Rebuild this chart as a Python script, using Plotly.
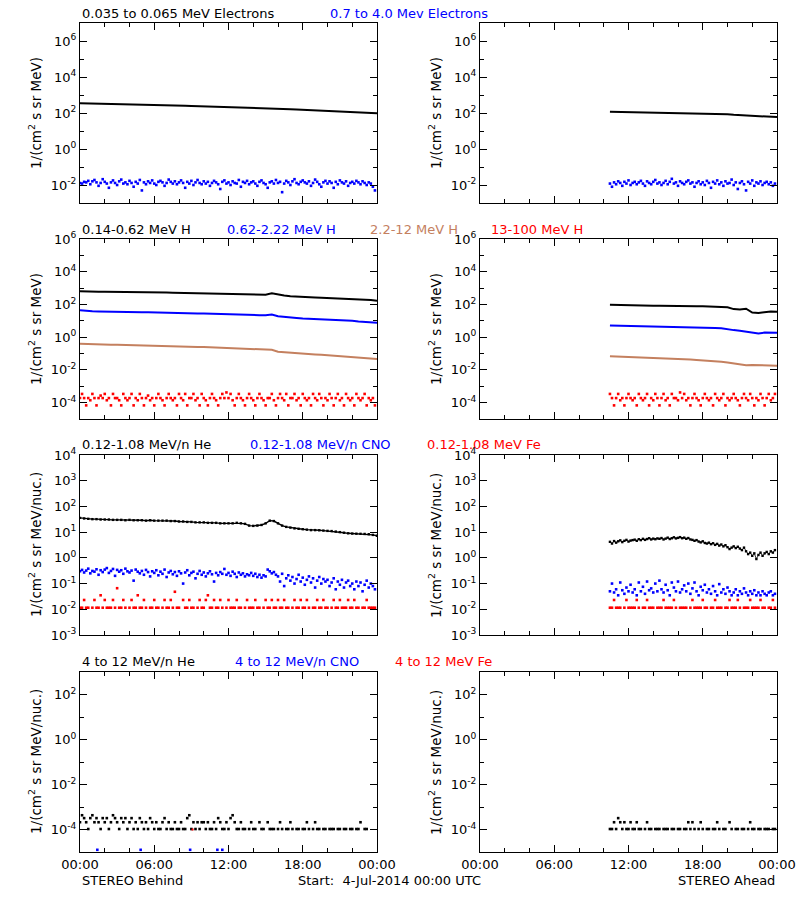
import pandas as pd
import plotly.graph_objects as go

# ---------------- time bases (categories) ----------------
t10_B = pd.date_range('2014-07-04 00:00', periods=144, freq='10min')
t10_A = pd.date_range('2014-07-04 10:30', periods=81, freq='10min')
t30_B = pd.date_range('2014-07-04 00:00', periods=49, freq='30min')
t30_A = pd.date_range('2014-07-04 10:30', periods=28, freq='30min')
t20_B = pd.date_range('2014-07-04 00:00', periods=73, freq='20min')

# ---------------- Row 1: electrons ----------------
e_lo_B = [350, 345, 340, 336, 332, 325, 318, 314, 308, 302, 298, 292, 284, 278, 272, 264, 258,
          252, 247, 242, 236, 230, 222, 214, 206, 202, 198, 193, 189, 185, 181, 177, 172, 167,
          162, 157, 152, 147, 142, 137, 132, 127, 122, 118, 114, 110, 106, 101, 96]
e_hi_B = [0.013, 0.012, 0.015, 0.014, 0.017, 0.011, 0.016, 0.019, 0.014, 0.009, 0.013, 0.021,
          0.015, 0.012, 0.007, 0.014, 0.018, 0.013, 0.010, 0.016, 0.020, 0.012, 0.014, 0.011,
          0.017, 0.013, 0.008, 0.015, 0.012, 0.019, 0.005, 0.014, 0.011, 0.016, 0.013, 0.018,
          0.012, 0.010, 0.015, 0.017, 0.014, 0.009, 0.013, 0.020, 0.015, 0.012, 0.016, 0.011,
          0.014, 0.018, 0.013, 0.007, 0.015, 0.012, 0.017, 0.010, 0.014, 0.019, 0.013, 0.011,
          0.016, 0.012, 0.015, 0.009, 0.013, 0.017, 0.014, 0.011, 0.006, 0.015, 0.018, 0.012,
          0.014, 0.010, 0.016, 0.013, 0.012, 0.019, 0.008, 0.015, 0.013, 0.017, 0.011, 0.014,
          0.016, 0.012, 0.009, 0.015, 0.018, 0.013, 0.011, 0.007, 0.014, 0.016, 0.012, 0.019,
          0.013, 0.015, 0.004, 0.012, 0.017, 0.014, 0.010, 0.016, 0.021, 0.013, 0.011, 0.015,
          0.018, 0.014, 0.012, 0.016, 0.009, 0.013, 0.020, 0.015, 0.011, 0.008, 0.014, 0.017,
          0.012, 0.016, 0.013, 0.007, 0.015, 0.011, 0.018, 0.014, 0.012, 0.016, 0.009, 0.013,
          0.015, 0.012, 0.017, 0.014, 0.011, 0.016, 0.013, 0.010, 0.014, 0.012, 0.008, 0.005]
e_lo_A = [118, 116, 115, 114, 112, 110, 108, 107, 105, 104, 102, 100, 99, 98, 96, 95, 93, 91,
          88, 84, 79, 75, 72, 69, 65, 61, 58, 59]
e_hi_A = [0.012, 0.008, 0.014, 0.011, 0.016, 0.013, 0.009, 0.015, 0.012, 0.018, 0.010, 0.013,
          0.015, 0.011, 0.014, 0.017, 0.012, 0.009, 0.016, 0.013, 0.011, 0.015, 0.019, 0.012,
          0.014, 0.010, 0.013, 0.017, 0.011, 0.015, 0.022, 0.012, 0.014, 0.009, 0.016, 0.013,
          0.011, 0.015, 0.018, 0.012, 0.014, 0.008, 0.013, 0.016, 0.011, 0.014, 0.010, 0.017,
          0.013, 0.007, 0.015, 0.012, 0.018, 0.011, 0.014, 0.009, 0.016, 0.012, 0.013, 0.020,
          0.010, 0.014, 0.006, 0.013, 0.016, 0.011, 0.005, 0.015, 0.012, 0.018, 0.009, 0.014,
          0.012, 0.016, 0.010, 0.013, 0.015, 0.011, 0.014, 0.009, 0.012]

# ---------------- Row 2: protons ----------------
h1_B = [630, 640, 610, 600, 590, 590, 580, 575, 570, 565,
        560, 555, 550, 545, 535, 520, 510, 500, 490, 480,
        470, 460, 455, 445, 435, 425, 415, 405, 380, 360,
        390, 480, 400, 350, 320, 300, 290, 280, 270, 260,
        252, 245, 238, 230, 220, 210, 198, 185, 170]
h2_B = [44, 40, 38, 37, 36, 36, 35, 35, 34, 34,
        33, 33, 32, 32, 31, 30, 30, 29, 29, 28,
        28, 27, 27, 26, 26, 25, 25, 24, 23, 22,
        22, 24, 19, 17, 16, 15, 14, 13.5, 13, 12.5,
        12, 11.5, 11, 10.5, 10, 9, 8.5, 8, 7.5]
h3_B = [0.40, 0.38, 0.37, 0.36, 0.35, 0.34, 0.34, 0.33, 0.32, 0.31,
        0.31, 0.30, 0.30, 0.29, 0.29, 0.28, 0.28, 0.27, 0.26, 0.25,
        0.25, 0.24, 0.23, 0.23, 0.22, 0.21, 0.20, 0.20, 0.19, 0.18,
        0.17, 0.17, 0.13, 0.12, 0.11, 0.105, 0.098, 0.093, 0.088, 0.083,
        0.077, 0.072, 0.068, 0.063, 0.058, 0.054, 0.05, 0.048, 0.046]
h4_B = [1.9e-4, 3.4e-4, 1.9e-4, 6.8e-5, 1.9e-4, 1.4e-4, 3.4e-4, 1.9e-4, 6.8e-5, 1.9e-4, 2.7e-4, 1.9e-4,
        3.4e-4, 1.4e-4, 1.9e-4, 6.8e-5, 3.4e-4, 1.9e-4, 1.9e-4, 1.4e-4, 6.8e-5, 3.4e-4, 1.9e-4, 1.4e-4,
        1.9e-4, 3.4e-4, 6.8e-5, 1.9e-4, 1.4e-4, 3.4e-4, 1.9e-4, 6.8e-5, 1.9e-4, 2.7e-4, 1.4e-4, 1.9e-4,
        6.8e-5, 1.9e-4, 3.4e-4, 1.9e-4, 1.4e-4, 6.8e-5, 1.9e-4, 3.4e-4, 1.9e-4, 1.4e-4, 1.9e-4, 6.8e-5,
        3.4e-4, 1.9e-4, 1.4e-4, 3.4e-4, 6.8e-5, 1.9e-4, 1.9e-4, 3.4e-4, 1.4e-4, 1.9e-4, 6.8e-5, 3.4e-4,
        1.9e-4, 1.4e-4, 6.8e-5, 1.9e-4, 3.4e-4, 1.9e-4, 1.4e-4, 6.8e-5, 1.9e-4, 3.4e-4, 1.9e-4, 4.2e-4,
        1.9e-4, 3.4e-4, 1.4e-4, 6.8e-5, 1.9e-4, 3.4e-4, 1.9e-4, 1.4e-4, 6.8e-5, 1.9e-4, 3.4e-4, 1.9e-4,
        1.4e-4, 6.8e-5, 1.9e-4, 3.4e-4, 1.9e-4, 1.4e-4, 6.8e-5, 1.9e-4, 1.9e-4, 3.4e-4, 1.4e-4, 6.8e-5,
        1.9e-4, 3.4e-4, 1.9e-4, 1.4e-4, 3.4e-4, 6.8e-5, 1.9e-4, 1.9e-4, 3.4e-4, 1.4e-4, 1.9e-4, 6.8e-5,
        3.4e-4, 1.9e-4, 1.4e-4, 1.9e-4, 6.8e-5, 3.4e-4, 1.9e-4, 1.4e-4, 3.4e-4, 1.9e-4, 6.8e-5, 1.9e-4,
        1.4e-4, 3.4e-4, 1.9e-4, 6.8e-5, 1.9e-4, 3.4e-4, 1.4e-4, 1.9e-4, 6.8e-5, 3.4e-4, 1.9e-4, 1.4e-4,
        1.9e-4, 6.8e-5, 3.4e-4, 1.9e-4, 1.4e-4, 1.9e-4, 3.4e-4, 6.8e-5, 1.9e-4, 1.4e-4, 1.9e-4, 6.8e-5]
h1_A = [95, 92, 90, 88, 87, 86, 84, 82, 82, 80, 80, 79, 79, 78, 78, 77, 75, 73, 70, 67,
        52, 50, 55, 32, 30, 34, 37, 36]
h2_A = [5.2, 5.1, 5.1, 5.0, 5.0, 4.9, 4.9, 4.8, 4.7, 4.6, 4.5, 4.4, 4.3, 4.2, 4.1, 4.0,
        3.9, 3.7, 3.5, 3.0, 2.7, 2.5, 2.2, 1.8, 1.7, 1.9, 1.9, 1.85]
h3_A = [0.068, 0.066, 0.065, 0.064, 0.062, 0.060, 0.058, 0.056, 0.053, 0.050, 0.049, 0.047,
        0.045, 0.043, 0.041, 0.039, 0.036, 0.034, 0.031, 0.028, 0.024, 0.020, 0.019, 0.020,
        0.019, 0.019, 0.018, 0.018]
h4_A = [3.4e-4, 1.9e-4, 6.8e-5, 1.9e-4, 3.4e-4, 1.4e-4, 1.9e-4, 6.8e-5, 1.9e-4, 3.4e-4, 1.9e-4, 1.4e-4,
        1.9e-4, 6.8e-5, 3.4e-4, 1.9e-4, 1.4e-4, 1.9e-4, 3.4e-4, 6.8e-5, 1.9e-4, 1.4e-4, 3.4e-4, 1.9e-4,
        6.8e-5, 1.9e-4, 3.4e-4, 1.4e-4, 1.9e-4, 6.8e-5, 3.4e-4, 1.9e-4, 1.9e-4, 1.4e-4, 4.2e-4, 1.9e-4,
        3.4e-4, 1.4e-4, 1.9e-4, 6.8e-5, 1.9e-4, 3.4e-4, 1.9e-4, 1.4e-4, 6.8e-5, 1.9e-4, 3.4e-4, 1.9e-4,
        1.4e-4, 1.9e-4, 6.8e-5, 3.4e-4, 1.9e-4, 1.4e-4, 1.9e-4, 3.4e-4, 6.8e-5, 1.9e-4, 1.4e-4, 1.9e-4,
        3.4e-4, 1.9e-4, 1.4e-4, 6.8e-5, 1.9e-4, 3.4e-4, 1.9e-4, 1.4e-4, 3.4e-4, 1.9e-4, 6.8e-5, 1.9e-4,
        1.4e-4, 3.4e-4, 1.9e-4, 6.8e-5, 1.9e-4, 3.4e-4, 1.4e-4, 1.9e-4, 3.4e-4]

# ---------------- Row 3: 0.12-1.08 MeV/n heavy ions ----------------
he_B = [36, 34, 33, 32, 32, 31, 31, 31, 30, 30, 30, 29,
        30, 29, 29, 29, 28, 29, 28, 28, 28, 28, 27, 27,
        26, 26, 25, 25, 24, 24, 24, 23, 23, 23, 22, 22,
        22, 22, 23, 22, 21, 18, 17.5, 18, 19, 22, 28, 27,
        22, 18, 16, 15, 14, 13.5, 13, 12.5, 12, 12, 11.8, 11.5,
        11.2, 11, 10.5, 10, 9.5, 9, 8.8, 8.7, 8.6, 8.5, 8.3, 7.8,
        7.2]
cno_B = [0.30, 0.34, 0.27, 0.32, 0.38, 0.25, 0.31, 0.29, 0.36, 0.22, 0.33, 0.28,
         0.35, 0.40, 0.26, 0.31, 0.37, 0.20, 0.34, 0.29, 0.33, 0.24, 0.38, 0.30,
         0.27, 0.32, 0.13, 0.35, 0.29, 0.25, 0.31, 0.22, 0.34, 0.28, 0.19, 0.30,
         0.26, 0.33, 0.21, 0.29, 0.24, 0.35, 0.18, 0.27, 0.31, 0.23, 0.28, 0.20,
         0.30, 0.25, 0.10, 0.27, 0.33, 0.21, 0.26, 0.29, 0.16, 0.24, 0.31, 0.22,
         0.27, 0.19, 0.25, 0.30, 0.23, 0.12, 0.26, 0.21, 0.28, 0.24, 0.37, 0.22,
         0.26, 0.20, 0.29, 0.24, 0.18, 0.27, 0.22, 0.25, 0.19, 0.23, 0.21, 0.26,
         0.20, 0.24, 0.18, 0.22, 0.17, 0.21, 0.19, 0.35, 0.30, 0.25, 0.28, 0.22,
         0.19, 0.12, 0.24, 0.08, 0.16, 0.21, 0.13, 0.18, 0.10, 0.15, 0.22, 0.12,
         0.17, 0.09, 0.14, 0.19, 0.11, 0.16, 0.07, 0.13, 0.18, 0.10, 0.15, 0.12,
         0.14, 0.08, 0.11, 0.16, 0.06, 0.12, 0.09, 0.14, 0.07, 0.11, 0.13, 0.08,
         0.10, 0.06, 0.12, 0.08, 0.11, 0.05, 0.09, 0.13, 0.07, 0.10, 0.08, 0.06]
fe_B = [0.0115, 0.0115, 0.023, 0.0115, 0.0115, None, 0.0115, 0.023, 0.0115, 0.0115, 0.035, 0.0115,
        0.023, 0.0115, 0.0115, 0.0115, 0.023, 0.0115, 0.066, 0.0115, 0.0115, 0.023, 0.0115, None,
        0.0115, 0.023, 0.0115, 0.0115, 0.035, 0.0115, 0.0115, 0.023, 0.0115, None, 0.0115, 0.0115,
        0.023, 0.0115, 0.0115, None, 0.0115, 0.023, 0.0115, 0.0115, 0.023, 0.0115, 0.048, 0.0115,
        0.0115, None, 0.023, 0.0115, 0.0115, 0.023, 0.0115, 0.0115, None, 0.0115, 0.023, 0.0115,
        0.0115, 0.023, 0.035, 0.0115, 0.0115, 0.023, 0.0115, 0.0115, 0.023, 0.0115, None, 0.0115,
        0.023, 0.0115, 0.0115, 0.0115, 0.023, 0.0115, 0.0115, None, 0.0115, 0.023, 0.0115, 0.0115,
        0.0115, 0.023, 0.0115, 0.0115, None, 0.0115, 0.023, 0.0115, 0.0115, 0.023, 0.0115, 0.0115,
        0.023, 0.0115, 0.0115, 0.023, 0.0115, 0.0115, None, 0.0115, 0.023, 0.0115, 0.0115, 0.023,
        0.0115, 0.0115, 0.023, 0.0115, None, 0.0115, 0.0115, 0.023, 0.0115, 0.0115, 0.023, 0.0115,
        0.0115, None, 0.0115, 0.023, 0.0115, 0.0115, 0.023, 0.0115, 0.0115, 0.0115, 0.023, 0.0115,
        0.0115, 0.023, 0.0115, 0.0115, None, 0.0115, 0.0115, 0.023, 0.0115, 0.0115, 0.0115, 0.0115]
he_A = [4.2, 3.6, 4.5, 3.9, 4.4, 4.8, 4.1, 4.6, 5.0, 4.3, 4.7, 4.9,
        5.1, 4.6, 5.3, 4.9, 5.5, 5.0, 5.4, 5.8, 5.2, 5.6, 5.3, 5.7,
        5.5, 5.9, 5.2, 5.6, 6.1, 5.4, 5.8, 6.3, 5.7, 6.0, 6.4, 5.8,
        6.1, 5.5, 5.9, 5.2, 5.0, 4.6, 4.9, 4.3, 4.0, 4.4, 3.8, 3.6,
        3.9, 3.4, 3.7, 3.2, 3.5, 3.0, 3.3, 2.8, 3.1, 2.6, 2.2, 2.5,
        2.8, 2.4, 2.7, 2.3, 2.0, 2.5, 1.8, 1.4, 1.6, 1.2, 1.5, 0.9,
        1.3, 1.6, 1.2, 1.5, 1.7, 1.4, 1.8, 1.6, 2.0]
cno_A = [0.05, 0.10, 0.045, 0.06, 0.035, 0.11, 0.055, 0.04, 0.07, 0.05, 0.09, 0.045,
         0.06, 0.035, 0.11, 0.05, 0.075, 0.04, 0.12, 0.055, 0.065, 0.045, 0.10, 0.05,
         0.13, 0.06, 0.045, 0.09, 0.055, 0.035, 0.11, 0.07, 0.05, 0.12, 0.045, 0.06,
         0.085, 0.05, 0.10, 0.04, 0.065, 0.11, 0.05, 0.035, 0.075, 0.055, 0.09, 0.045,
         0.06, 0.04, 0.08, 0.05, 0.035, 0.095, 0.045, 0.06, 0.04, 0.07, 0.05, 0.035,
         0.045, 0.06, 0.035, 0.05, 0.04, 0.065, 0.045, 0.035, 0.05, 0.04, 0.055, 0.035,
         0.045, 0.035, 0.05, 0.04, 0.035, 0.045, 0.05, 0.035, 0.04]
fe_A = [0.0115, 0.0115, 0.023, 0.0115, 0.0115, 0.0115, None, 0.0115, 0.023, 0.0115, 0.0115, 0.0115,
        0.0115, 0.023, 0.0115, None, 0.0115, 0.0115, 0.023, 0.0115, 0.0115, 0.0115, None, 0.0115,
        0.0115, 0.0115, 0.023, 0.0115, 0.0115, 0.0115, 0.0115, 0.023, 0.0115, None, 0.0115, 0.0115,
        0.0115, 0.0115, None, 0.0115, 0.023, 0.0115, 0.0115, 0.0115, 0.0115, 0.023, 0.0115, 0.0115,
        None, 0.0115, 0.0115, 0.023, 0.0115, 0.0115, 0.0115, None, 0.0115, 0.0115, 0.023, 0.0115,
        0.0115, 0.0115, 0.023, 0.0115, None, 0.0115, 0.0115, 0.0115, 0.023, 0.0115, 0.0115, 0.0115,
        0.0115, 0.023, 0.0115, 0.0115, None, 0.0115, 0.0115, 0.023, 0.0115]

# ---------------- Row 4: 4-12 MeV/n heavy ions ----------------
hehi_B = [2.1e-4, 4.3e-4, 3.2e-4, 2.1e-4, 1.05e-4, 3.2e-4, 4.3e-4, 2.1e-4, 3.2e-4, 2.1e-4, 1.05e-4, 3.2e-4,
          2.1e-4, 3.2e-4, 1.05e-4, 2.1e-4, 4.3e-4, 3.2e-4, 2.1e-4, 1.05e-4, 3.2e-4, 2.1e-4, 3.2e-4, 1.05e-4,
          2.1e-4, 3.2e-4, 1.05e-4, 2.1e-4, 1.05e-4, 3.2e-4, 2.1e-4, 1.05e-4, 2.1e-4, 1.05e-4, 3.2e-4, 2.1e-4,
          1.05e-4, 2.1e-4, 1.05e-4, 1.05e-4, 2.1e-4, 3.2e-4, 1.05e-4, 2.1e-4, 1.05e-4, 1.05e-4, 2.1e-4, 1.05e-4,
          1.05e-4, 2.1e-4, 1.05e-4, 1.05e-4, 3.2e-4, 4.3e-4, 1.05e-4, 2.1e-4, 1.05e-4, 2.1e-4, 1.05e-4, 2.1e-4,
          2.1e-4, 1.05e-4, 2.1e-4, 1.05e-4, 1.05e-4, 2.1e-4, 1.05e-4, 3.2e-4, 2.1e-4, 1.05e-4, 1.05e-4, 2.1e-4,
          1.05e-4, 3.2e-4, 4.3e-4, 2.1e-4, 1.05e-4, 1.05e-4, 2.1e-4, 1.05e-4, 1.05e-4, None, 1.05e-4, 2.1e-4,
          1.05e-4, 1.05e-4, None, 2.1e-4, 1.05e-4, 1.05e-4, None, 2.1e-4, 1.05e-4, 1.05e-4, 1.05e-4, None,
          1.05e-4, 2.1e-4, 1.05e-4, None, 1.05e-4, 1.05e-4, 2.1e-4, 1.05e-4, None, 1.05e-4, 1.05e-4, None,
          1.05e-4, 1.05e-4, 2.1e-4, 1.05e-4, None, 1.05e-4, 2.1e-4, 1.05e-4, 1.05e-4, None, 1.05e-4, 1.05e-4,
          None, 1.05e-4, 1.05e-4, 1.05e-4, None, 1.05e-4, 1.05e-4, None, 1.05e-4, 1.05e-4, None, 1.05e-4,
          1.05e-4, None, 1.05e-4, 1.05e-4, 2.1e-4, None, 1.05e-4, 1.05e-4, None, None, None, None]
cnohi_B_t = ['2014-07-04 01:24', '2014-07-04 04:54', '2014-07-04 08:54', '2014-07-04 11:06', '2014-07-04 11:30']
cnohi_B = [1.25e-5, 1.25e-5, 1.25e-5, 1.25e-5, 1.25e-5]
fehi_B_t = ['2014-07-04 09:06']
fehi_B = [1.0e-4]
hehi_A = [1.05e-4, 1.05e-4, 2.1e-4, 1.05e-4, 3.2e-4, 2.1e-4, 1.05e-4, 2.1e-4, 1.05e-4, 1.05e-4, 2.1e-4, 1.05e-4,
          1.05e-4, 2.1e-4, 1.05e-4, 1.05e-4, None, 1.05e-4, 2.1e-4, 1.05e-4, 1.05e-4, None, 1.05e-4, 1.05e-4,
          1.05e-4, None, 1.05e-4, 1.05e-4, 1.05e-4, None, 1.05e-4, 1.05e-4, None, 1.05e-4, 1.05e-4, None,
          1.05e-4, 1.05e-4, 2.1e-4, 1.05e-4, 2.1e-4, 1.05e-4, None, 1.05e-4, 2.1e-4, 1.05e-4, None, 1.05e-4,
          1.05e-4, None, 1.05e-4, 1.05e-4, 2.1e-4, 1.05e-4, None, 1.05e-4, 1.05e-4, None, 2.1e-4, 1.05e-4,
          None, 1.05e-4, 1.05e-4, None, 1.05e-4, 1.05e-4, None, 1.05e-4, 2.1e-4, 1.05e-4, 1.05e-4, None,
          1.05e-4, 1.05e-4, None, 1.05e-4, 1.05e-4, 1.05e-4, None, 1.05e-4, 1.05e-4]

# ---------------- titles / labels ----------------
row_titles = [
    [("0.035 to 0.065 MeV Electrons", "#000000", 80), ("0.7 to 4.0 Mev Electrons", "#0000FF", 328)],
    [("0.14-0.62 MeV H", "#000000", 80), ("0.62-2.22 MeV H", "#0000FF", 225),
     ("2.2-12 MeV H", "#C4805F", 368), ("13-100 MeV H", "#FF0000", 489)],
    [("0.12-1.08 MeV/n He", "#000000", 80), ("0.12-1.08 MeV/n CNO", "#0000FF", 248),
     ("0.12-1.08 MeV Fe", "#FF0000", 425)],
    [("4 to 12 MeV/n He", "#000000", 80), ("4 to 12 MeV/n CNO", "#0000FF", 233),
     ("4 to 12 MeV Fe", "#FF0000", 393)],
]
row_title_y = [13.3, 229.5, 444.5, 661.5]
y_titles = ["1/(cm<sup>2</sup> s sr MeV)", "1/(cm<sup>2</sup> s sr MeV)",
            "1/(cm<sup>2</sup> s sr MeV/nuc.)", "1/(cm<sup>2</sup> s sr MeV/nuc.)"]
y_ranges = [(-3, 7), (-5, 6), (-3, 4), (-5, 3)]
y_major = [[6, 4, 2, 0, -2], [6, 4, 2, 0, -2, -4], [4, 3, 2, 1, 0, -1, -2, -3], [2, 0, -2, -4]]
y_minor = [[5, 3, 1, -1], [5, 3, 1, -1, -3], [], [3, 1, -1, -3]]

# ---------------- figure geometry (page pixels) ----------------
W, H = 800, 900
col_x = [(80, 377), (480, 777)]
row_top = [23, 239, 455, 672]
PH = 180
FONT = "DejaVu Sans"
TFS = 13
YFS = 13.5


def fx(px):
    return px / W


def fy(py):
    return 1 - py / H


fig = go.Figure()
layout = dict(width=W, height=H, margin=dict(l=0, r=0, t=0, b=0, autoexpand=False),
              paper_bgcolor="white", plot_bgcolor="white", showlegend=False,
              font=dict(family=FONT, size=13, color="black"))

MARK = 2.6


def axis_id(r, c):
    return r * 2 + c + 1


def add_line(r, c, x, y, color, width=2.0):
    i = axis_id(r, c)
    fig.add_trace(go.Scatter(x=x, y=y, mode="lines", line=dict(color=color, width=width),
                             xaxis=f"x{i}", yaxis=f"y{i}", connectgaps=False, hoverinfo="skip"))


def add_dots(r, c, x, y, color, size=MARK, mode="markers", lw=1.0):
    i = axis_id(r, c)
    fig.add_trace(go.Scatter(x=x, y=y, mode=mode,
                             marker=dict(symbol="square", size=size, color=color, line=dict(width=0)),
                             line=dict(color=color, width=lw),
                             xaxis=f"x{i}", yaxis=f"y{i}", hoverinfo="skip"))


BLK, BLU, SIE, RED = "#000000", "#0000FF", "#C4805F", "#FF0000"

# Row 1
add_dots(0, 0, t10_B, e_hi_B, BLU)
add_line(0, 0, t30_B, e_lo_B, BLK)
add_dots(0, 1, t10_A, e_hi_A, BLU)
add_line(0, 1, t30_A, e_lo_A, BLK)
# Row 2
add_dots(1, 0, t10_B, h4_B, RED)
add_line(1, 0, t30_B, h3_B, SIE)
add_line(1, 0, t30_B, h2_B, BLU)
add_line(1, 0, t30_B, h1_B, BLK)
add_dots(1, 1, t10_A, h4_A, RED)
add_line(1, 1, t30_A, h3_A, SIE)
add_line(1, 1, t30_A, h2_A, BLU)
add_line(1, 1, t30_A, h1_A, BLK)
# Row 3
add_dots(2, 0, t10_B, fe_B, RED)
add_dots(2, 0, t10_B, cno_B, BLU)
add_dots(2, 0, t20_B, he_B, BLK, size=2.4, mode="lines+markers", lw=1.4)
add_dots(2, 1, t10_A, fe_A, RED)
add_dots(2, 1, t10_A, cno_A, BLU)
add_dots(2, 1, t10_A, he_A, BLK, size=2.4, mode="lines+markers", lw=0.8)
# Row 4
add_dots(3, 0, t10_B, hehi_B, BLK)
add_dots(3, 0, cnohi_B_t, cnohi_B, BLU)
add_dots(3, 0, fehi_B_t, fehi_B, RED, size=2)
add_dots(3, 1, t10_A, hehi_A, BLK)

annotations = []
for r in range(4):
    y0 = fy(row_top[r] + PH)
    y1 = fy(row_top[r])
    lo, hi = y_ranges[r]
    for c in range(2):
        i = axis_id(r, c)
        x0 = fx(col_x[c][0])
        x1 = fx(col_x[c][1])
        layout[f"xaxis{i}"] = dict(
            domain=[x0, x1], anchor=f"y{i}", type="date",
            range=["2014-07-04 00:00", "2014-07-05 00:00"],
            showline=True, linecolor="black", linewidth=1, mirror="ticks",
            ticks="inside", ticklen=7, tickcolor="black", tickwidth=1,
            tick0="2014-07-04 00:00", dtick=6 * 3600 * 1000, tickformat="%H:%M",
            showticklabels=(r == 3), showgrid=False, zeroline=False,
            tickfont=dict(family=FONT, size=13, color="black"),
            minor=dict(ticks="inside", dtick=2 * 3600 * 1000, ticklen=4, tickcolor="black",
                       showgrid=False),
        )
        ytick_text = ["10<sup>%d</sup>" % e for e in y_major[r]]
        layout[f"yaxis{i}"] = dict(
            domain=[y0, y1], anchor=f"x{i}", type="log", range=[lo, hi],
            showline=True, linecolor="black", linewidth=1, mirror="ticks",
            ticks="inside", ticklen=7, tickcolor="black", tickwidth=1,
            tickmode="array", tickvals=[10.0 ** e for e in y_major[r]], ticktext=ytick_text,
            showgrid=False, zeroline=False,
            tickfont=dict(family=FONT, size=13, color="black"),
            minor=dict(ticks="inside", tickmode="array", tickvals=[10.0 ** e for e in y_minor[r]],
                       ticklen=4, tickcolor="black", showgrid=False),
        )
        annotations.append(dict(
            text=y_titles[r], x=fx(35 + 400 * c), y=(y0 + y1) / 2, xref="paper", yref="paper",
            xanchor="center", yanchor="middle", textangle=-90, showarrow=False,
            font=dict(family=FONT, size=YFS, color="black"),
        ))
    for (txt, colr, xpx) in row_titles[r]:
        annotations.append(dict(
            text=txt, x=fx(xpx), y=fy(row_title_y[r]), xref="paper", yref="paper",
            xanchor="left", yanchor="middle", showarrow=False,
            font=dict(family=FONT, size=TFS, color=colr),
        ))

annotations.append(dict(text="STEREO Behind", x=fx(80), y=fy(880.5), xref="paper", yref="paper",
                        xanchor="left", yanchor="middle", showarrow=False,
                        font=dict(family=FONT, size=TFS, color="black")))
annotations.append(dict(text="Start:\u00a0 4-Jul-2014 00:00 UTC", x=fx(296), y=fy(880.5),
                        xref="paper", yref="paper", xanchor="left", yanchor="middle",
                        showarrow=False, font=dict(family=FONT, size=TFS, color="black")))
annotations.append(dict(text="STEREO Ahead", x=fx(777), y=fy(880.5), xref="paper", yref="paper",
                        xanchor="right", yanchor="middle", showarrow=False,
                        font=dict(family=FONT, size=TFS, color="black")))

layout["annotations"] = annotations
fig.update_layout(**layout)
# remove the browser's default 8px page margin so the 800x900 figure fills the window exactly
fig.write_html("out.html", config={"displayModeBar": False, "staticPlot": True},
               post_script="document.body.style.margin='0px';")
